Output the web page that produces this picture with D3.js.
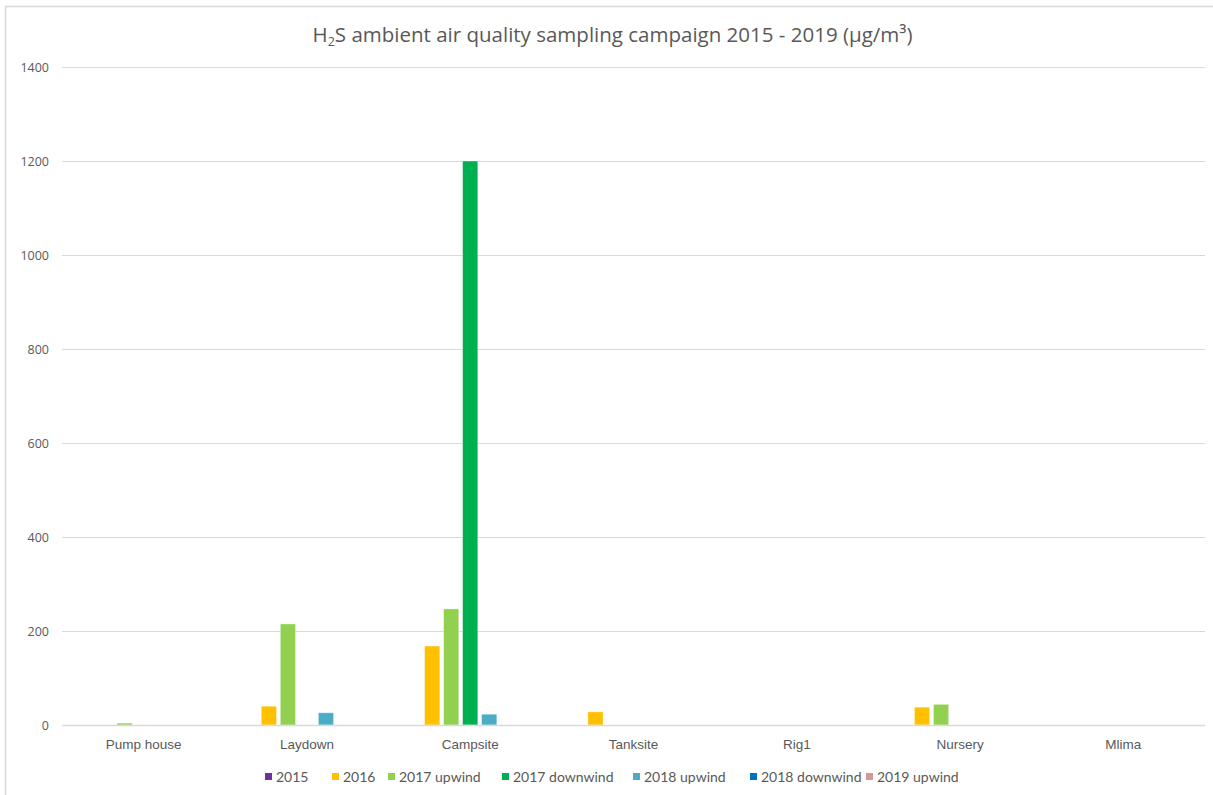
<!DOCTYPE html>
<html>
<head>
<meta charset="utf-8">
<script src="https://cdn.jsdelivr.net/npm/d3@7"></script>
<style>
  html, body { margin: 0; padding: 0; background: #fff; }
  svg { display: block; font-family: Lato, "Open Sans", sans-serif; }
</style>
</head>
<body>
<svg id="chart" width="1213" height="795"></svg>
<script>
// Sampling sites and campaigns
const sites = ["Pump house", "Laydown", "Campsite", "Tanksite", "Rig1", "Nursery", "Mlima"];
const campaigns = ["2015", "2016", "2017 upwind", "2017 downwind", "2018 upwind", "2018 downwind", "2019 upwind"];
const campaignColors = ["#7030A0", "#FFC000", "#92D050", "#00B050", "#4BACC6", "#0070C0", "#D99694"];

// H2S concentrations (µg/m³) per campaign, one value per site
const v2015         = [0, 0, 0, 0, 0, 0, 0];
const v2016         = [0, 40, 168, 28, 0, 38, 0];
const v2017upwind   = [4, 215, 247, 0, 0, 44, 0];
const v2017downwind = [0, 0, 1200, 0, 0, 0, 0];
const v2018upwind   = [0, 26, 23, 0, 0, 0, 0];
const v2018downwind = [0, 0, 0, 0, 0, 0, 0];
const v2019upwind   = [0, 0, 0, 0, 0, 0, 0];
const yTicks = [0, 200, 400, 600, 800, 1000, 1200, 1400];

const seriesValues = [v2015, v2016, v2017upwind, v2017downwind, v2018upwind, v2018downwind, v2019upwind];

const svg = d3.select("#chart");
const W = 1213, H = 795;
const plot = { left: 62, right: 1205, top: 67, bottom: 725 };
const textColor = "#595959";

// Outer chart frame (left and top edges visible)
svg.append("line").attr("x1", 5.5).attr("x2", 5.5).attr("y1", 6).attr("y2", H)
  .attr("stroke", "#d9d9d9").attr("stroke-width", 1.5);
svg.append("line").attr("x1", 5).attr("x2", W).attr("y1", 6.5).attr("y2", 6.5)
  .attr("stroke", "#d9d9d9").attr("stroke-width", 1.5);

const x0 = d3.scaleBand().domain(sites).range([plot.left, plot.right]).paddingInner(0.185).paddingOuter(0.0925);
const x1 = d3.scaleBand().domain(campaigns).range([0, x0.bandwidth()]).paddingInner(0.2).paddingOuter(0.1);
const y = d3.scaleLinear().domain([0, 1400]).range([plot.bottom, plot.top]);

// Horizontal gridlines
svg.append("g").selectAll("line").data(yTicks).join("line")
  .attr("x1", plot.left).attr("x2", plot.right)
  .attr("y1", d => Math.round(y(d)) + 0.5).attr("y2", d => Math.round(y(d)) + 0.5)
  .attr("stroke", "#d9d9d9").attr("stroke-width", 1);

// Y axis labels
const yAxis = d3.axisLeft(y).tickValues(yTicks).tickSize(0).tickPadding(13).tickFormat(d3.format("d"));
const gy = svg.append("g").attr("transform", `translate(${plot.left},0)`).call(yAxis);
gy.select(".domain").remove();
gy.selectAll("text").attr("fill", textColor).style("font-family", "'Open Sans', sans-serif").style("font-size", "12.5px");

// Bars
const rows = sites.map((s, i) => ({ site: s, vals: campaigns.map((c, j) => ({ c, j, v: seriesValues[j][i] })) }));
const groups = svg.append("g").selectAll("g").data(rows).join("g")
  .attr("transform", d => `translate(${x0(d.site)},0)`);
groups.selectAll("rect").data(d => d.vals.filter(e => e.v > 0)).join("rect")
  .attr("x", d => x1(d.c))
  .attr("width", x1.bandwidth())
  .attr("y", d => y(d.v))
  .attr("height", d => y(0) - y(d.v))
  .attr("fill", d => campaignColors[d.j])
  .attr("stroke", "#fff").attr("stroke-opacity", 0.5).attr("stroke-width", 0.75);

// Baseline
svg.append("line").attr("x1", plot.left).attr("x2", plot.right)
  .attr("y1", Math.round(y(0)) + 0.5).attr("y2", Math.round(y(0)) + 0.5)
  .attr("stroke", "#d9d9d9").attr("stroke-width", 1.5);

// Category labels
const xAxis = d3.axisBottom(x0).tickSize(0).tickPadding(14);
const gx = svg.append("g").attr("transform", `translate(0,${plot.bottom})`).call(xAxis);
gx.select(".domain").remove();
gx.selectAll("text").attr("fill", textColor).style("font-size", "13.5px");

// Title with subscript
const title = svg.append("text").attr("x", W / 2 + 6).attr("y", 42).attr("text-anchor", "middle")
  .attr("fill", textColor).style("font-family", "'Open Sans', sans-serif").style("font-size", "20.5px");
title.append("tspan").text("H");
title.append("tspan").text("2").attr("dy", 4).style("font-size", "12.5px");
title.append("tspan").text("S ambient air quality sampling campaign 2015 - 2019 (µg/m³)").attr("dy", -4);

// Legend
const legendX = [265, 332, 388, 502, 633, 750, 866];
const lg = svg.append("g").selectAll("g").data(campaigns).join("g")
  .attr("transform", (d, i) => `translate(${legendX[i]},777)`);
lg.append("rect").attr("x", 0).attr("y", -4).attr("width", 7).attr("height", 7)
  .attr("fill", (d, i) => campaignColors[i]);
lg.append("text").attr("x", 11).attr("y", 5).text(d => d)
  .attr("fill", textColor)
  .style("font-size", "14px");
</script>
</body>
</html>
